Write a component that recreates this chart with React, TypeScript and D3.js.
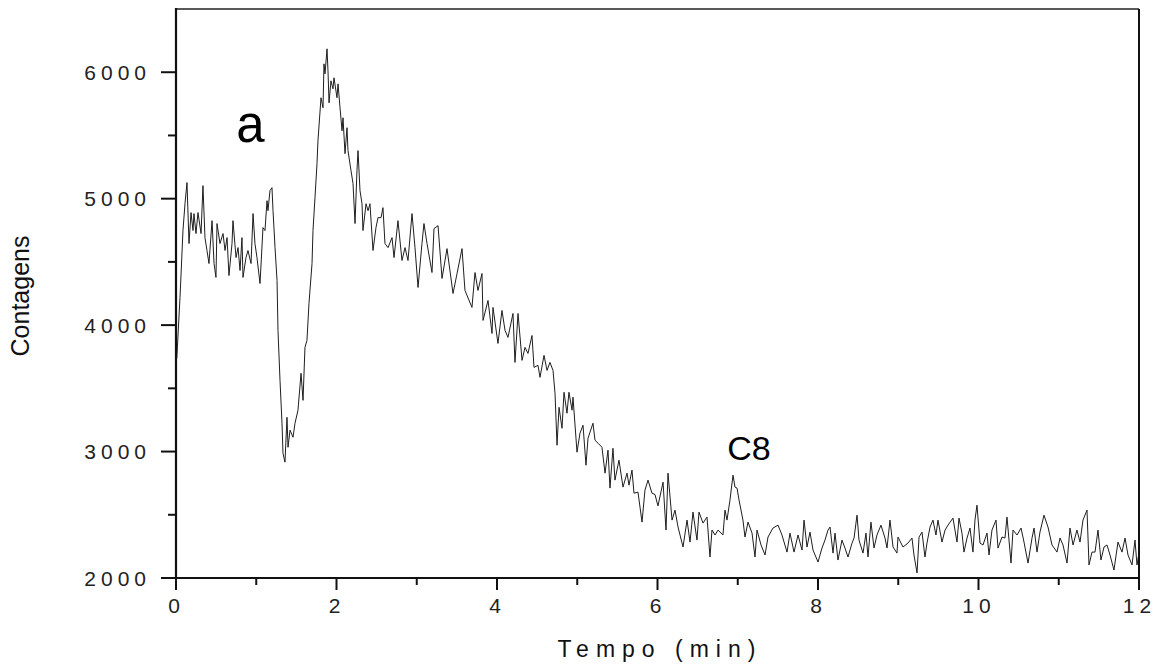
import React from "react";
import * as d3 from "d3";

// ---- data ----
const times: number[] = [
  0.01, 0.05, 0.087, 0.112, 0.137, 0.162, 0.187, 0.212, 0.224, 0.249, 0.274, 0.312, 0.336, 0.361, 0.386, 0.411,
  0.449, 0.474, 0.498, 0.511, 0.548, 0.586, 0.611, 0.636, 0.66, 0.698, 0.71, 0.748, 0.773, 0.798, 0.822, 0.835,
  0.872, 0.897, 0.935, 0.96, 0.984, 1.009, 1.047, 1.084, 1.109, 1.134, 1.146, 1.171, 1.196, 1.209, 1.234, 1.259,
  1.271, 1.296, 1.321, 1.333, 1.358, 1.383, 1.396, 1.421, 1.458, 1.483, 1.52, 1.558, 1.583, 1.607, 1.632, 1.657,
  1.695, 1.707, 1.732, 1.757, 1.769, 1.807, 1.832, 1.844, 1.857, 1.882, 1.894, 1.907, 1.931, 1.956, 1.969, 2.006,
  2.019, 2.044, 2.069, 2.081, 2.106, 2.131, 2.143, 2.181, 2.206, 2.231, 2.255, 2.268, 2.293, 2.318, 2.33, 2.368,
  2.393, 2.417, 2.455, 2.492, 2.517, 2.555, 2.579, 2.604, 2.642, 2.692, 2.717, 2.766, 2.816, 2.854, 2.891, 2.941,
  2.978, 3.016, 3.065, 3.09, 3.128, 3.19, 3.215, 3.265, 3.315, 3.377, 3.452, 3.502, 3.564, 3.601, 3.688, 3.726,
  3.763, 3.813, 3.826, 3.888, 3.938, 3.95, 4.012, 4.062, 4.1, 4.137, 4.199, 4.224, 4.262, 4.312, 4.349, 4.386,
  4.436, 4.461, 4.511, 4.536, 4.586, 4.623, 4.66, 4.698, 4.723, 4.748, 4.773, 4.81, 4.835, 4.872, 4.897, 4.935,
  4.947, 4.997, 5.034, 5.072, 5.109, 5.134, 5.196, 5.221, 5.259, 5.308, 5.346, 5.383, 5.408, 5.445, 5.47, 5.52,
  5.57, 5.62, 5.645, 5.682, 5.707, 5.757, 5.807, 5.844, 5.882, 5.931, 5.969, 6.006, 6.069, 6.106, 6.131, 6.181,
  6.218, 6.256, 6.318, 6.368, 6.405, 6.442, 6.492, 6.517, 6.567, 6.617, 6.654, 6.679, 6.717, 6.754, 6.816, 6.841,
  6.866, 6.903, 6.941, 6.966, 6.991, 7.016, 7.065, 7.09, 7.128, 7.178, 7.215, 7.24, 7.29, 7.34, 7.377, 7.439,
  7.502, 7.551, 7.614, 7.651, 7.701, 7.751, 7.801, 7.826, 7.863, 7.9, 7.938, 8.0, 8.05, 8.087, 8.125, 8.15,
  8.187, 8.212, 8.249, 8.299, 8.336, 8.374, 8.424, 8.449, 8.486, 8.511, 8.561, 8.598, 8.623, 8.66, 8.698, 8.735,
  8.785, 8.835, 8.86, 8.897, 8.935, 8.984, 8.997, 9.059, 9.121, 9.171, 9.196, 9.234, 9.259, 9.296, 9.333, 9.358,
  9.396, 9.433, 9.47, 9.495, 9.545, 9.583, 9.62, 9.682, 9.732, 9.757, 9.794, 9.819, 9.857, 9.894, 9.931, 9.956,
  9.981, 10.019, 10.056, 10.106, 10.131, 10.168, 10.218, 10.243, 10.293, 10.33, 10.355, 10.405, 10.43, 10.48, 10.53, 10.567,
  10.617, 10.667, 10.692, 10.729, 10.766, 10.816, 10.866, 10.916, 10.978, 11.016, 11.053, 11.103, 11.14, 11.178, 11.227, 11.265,
  11.302, 11.352, 11.377, 11.414, 11.452, 11.489, 11.526, 11.564, 11.601, 11.639, 11.688, 11.738, 11.788, 11.826, 11.863, 11.913,
  11.95, 11.975, 12.0,
];

const counts: number[] = [
  3737, 4219, 4748, 4960, 5127, 4645, 4890, 4748, 4882, 4724, 4890, 4724, 5103, 4692, 4590, 4487,
  4826, 4487, 4377, 4803, 4645, 4724, 4590, 4692, 4392, 4645, 4826, 4534, 4613, 4432, 4692, 4377,
  4534, 4590, 4487, 4882, 4645, 4534, 4329, 4771, 4748, 4984, 4905, 5063, 5087, 4905, 4613, 4353,
  3958, 3563, 3224, 2987, 2916, 3271, 3034, 3169, 3113, 3224, 3327, 3619, 3405, 3824, 3879, 4171,
  4487, 4748, 5008, 5277, 5458, 5798, 5719, 6066, 5987, 6185, 6011, 5758, 5932, 5869, 5956, 5798,
  5908, 5719, 5537, 5640, 5356, 5561, 5380, 5221, 5119, 4803, 5221, 5380, 5063, 4960, 4748, 4960,
  4905, 4960, 4590, 4771, 4850, 4850, 4929, 4645, 4613, 4692, 4534, 4826, 4511, 4613, 4511, 4882,
  4613, 4298, 4645, 4803, 4645, 4416, 4763, 4787, 4369, 4605, 4250, 4408, 4605, 4274, 4140, 4416,
  4274, 4408, 4037, 4195, 3934, 4140, 3855, 4116, 3958, 3903, 4092, 3705, 4092, 3721, 3824, 3776,
  3918, 3666, 3682, 3587, 3761, 3642, 3705, 3642, 3461, 3050, 3350, 3184, 3469, 3303, 3469, 3327,
  3430, 2995, 3145, 3208, 2892, 3105, 3224, 3090, 3066, 3034, 2829, 3011, 2711, 3026, 2774, 2932,
  2719, 2829, 2734, 2853, 2671, 2679, 2442, 2695, 2774, 2671, 2660, 2570, 2758, 2379, 2829, 2458,
  2537, 2403, 2245, 2458, 2284, 2521, 2300, 2521, 2434, 2482, 2166, 2379, 2340, 2379, 2340, 2537,
  2458, 2616, 2813, 2719, 2711, 2616, 2458, 2324, 2442, 2355, 2166, 2379, 2261, 2182, 2324, 2395,
  2418, 2340, 2205, 2355, 2205, 2340, 2221, 2458, 2245, 2363, 2221, 2126, 2237, 2300, 2379, 2403,
  2197, 2355, 2142, 2300, 2237, 2166, 2276, 2316, 2497, 2300, 2197, 2355, 2166, 2442, 2237, 2340,
  2418, 2316, 2237, 2458, 2245, 2197, 2324, 2245, 2276, 2316, 2182, 2040, 2324, 2363, 2166, 2276,
  2403, 2458, 2340, 2458, 2284, 2379, 2418, 2474, 2284, 2474, 2355, 2205, 2316, 2395, 2205, 2458,
  2576, 2276, 2261, 2355, 2182, 2379, 2458, 2237, 2324, 2316, 2482, 2118, 2379, 2340, 2395, 2284,
  2118, 2316, 2395, 2205, 2363, 2497, 2403, 2261, 2205, 2316, 2261, 2118, 2395, 2261, 2379, 2284,
  2458, 2537, 2103, 2205, 2205, 2379, 2142, 2245, 2261, 2182, 2063, 2284, 2205, 2316, 2182, 2103,
  2300, 2103, 2200,
];

const xMajorTicks: number[] = [0, 2, 4, 6, 8, 10, 12];
const xMinorTicks: number[] = [1, 3, 5, 7, 9, 11];
const yMajorTicks: number[] = [2000, 3000, 4000, 5000, 6000];
const yMinorTicks: number[] = [2500, 3500, 4500, 5500];

const xTitle = "Tempo (min)";
const yTitle = "Contagens";
const annotations: { label: string; t: number; v: number; size: number }[] = [
  { label: "a", t: 0.75, v: 5450, size: 51 },
  { label: "C8", t: 6.87, v: 2930, size: 34 },
];

// ---- layout ----
const W = 1156;
const H = 666;
const left = 176;
const right = 1139;
const top = 9;
const bottom = 578;
const FONT = "Arial, 'Liberation Sans', Helvetica, sans-serif";

export default function App() {
  const x = d3.scaleLinear().domain([0, 12]).range([left, right]);
  const y = d3.scaleLinear().domain([2000, 6500]).range([bottom, top]);

  const pts: [number, number][] = times.map((t, i) => [t, counts[i]]);
  const line = d3
    .line<[number, number]>()
    .x((d) => x(d[0]))
    .y((d) => y(d[1]));

  return (
    <svg
      width={W}
      height={H}
      viewBox={`0 0 ${W} ${H}`}
      style={{ position: "absolute", left: 0, top: 0, background: "#fff" }}
    >
      <rect x={0} y={0} width={W} height={H} fill="#fff" />

      {/* data trace */}
      <path d={line(pts) || ""} fill="none" stroke="#1e1e1e" strokeWidth={1} strokeLinejoin="round" />

      {/* frame */}
      <line x1={left} x2={right} y1={top} y2={top} stroke="#222" strokeWidth={1.6} />
      <line x1={right} x2={right} y1={top} y2={bottom} stroke="#111" strokeWidth={2} />
      <line x1={left} x2={left} y1={top - 1} y2={bottom + 1} stroke="#111" strokeWidth={2.2} />
      <line x1={left - 1} x2={right + 1} y1={bottom} y2={bottom} stroke="#111" strokeWidth={2.2} />

      {/* y ticks */}
      {yMajorTicks.map((v) => (
        <g key={"ym" + v}>
          <line x1={left - 15} x2={left} y1={y(v)} y2={y(v)} stroke="#111" strokeWidth={2} />
          <text
            x={151}
            y={y(v) + 7.5}
            textAnchor="end"
            fontFamily={FONT}
            fontSize={21}
            letterSpacing={5}
            fill="#222"
          >
            {v}
          </text>
        </g>
      ))}
      {yMinorTicks.map((v) => (
        <line key={"yn" + v} x1={left - 8} x2={left} y1={y(v)} y2={y(v)} stroke="#111" strokeWidth={2} />
      ))}

      {/* x ticks */}
      {xMajorTicks.map((t) => (
        <g key={"xm" + t}>
          <line x1={x(t)} x2={x(t)} y1={bottom} y2={bottom + 12} stroke="#111" strokeWidth={2} />
          <text
            x={x(t) - 2}
            y={613}
            textAnchor="middle"
            fontFamily={FONT}
            fontSize={21}
            fill="#222"
          >
            {String(t)
              .split("")
              .map((ch, i) => (
                <tspan key={i} dx={i === 0 ? 0 : 5}>
                  {ch}
                </tspan>
              ))}
          </text>
        </g>
      ))}
      {xMinorTicks.map((t) => (
        <line key={"xn" + t} x1={x(t)} x2={x(t)} y1={bottom} y2={bottom + 7} stroke="#111" strokeWidth={2} />
      ))}

      {/* axis titles */}
      <text
        x={660}
        y={657}
        textAnchor="middle"
        fontFamily={FONT}
        fontSize={23}
        letterSpacing={7}
        fill="#111"
      >
        {xTitle}
      </text>
      <text
        transform={`translate(29,296) rotate(-90)`}
        textAnchor="middle"
        fontFamily={FONT}
        fontSize={25}
        fill="#111"
      >
        {yTitle}
      </text>

      {/* annotations */}
      {annotations.map((a) => (
        <text
          key={a.label}
          x={x(a.t)}
          y={y(a.v)}
          fontFamily={FONT}
          fontSize={a.size}
          fill="#000"
        >
          {a.label}
        </text>
      ))}
    </svg>
  );
}
